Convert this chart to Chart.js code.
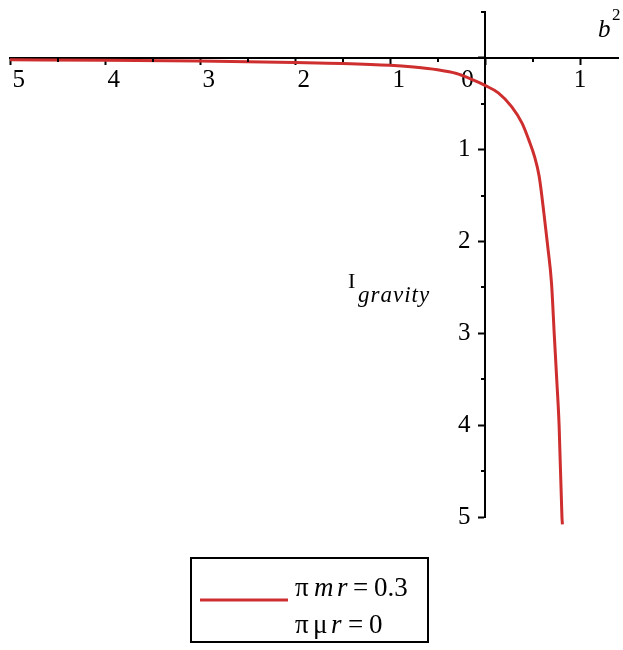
<!DOCTYPE html>
<html>
<head>
<meta charset="utf-8">
<script src="https://cdn.jsdelivr.net/npm/chart.js@4/dist/chart.umd.min.js"></script>
<style>
  html, body { margin: 0; padding: 0; background: #ffffff; }
  #wrap { width: 623px; height: 650px; position: relative; }
</style>
</head>
<body>
<div id="wrap"><canvas id="c" width="623" height="650"></canvas></div>
<script>
// Curve samples: b^2 against I_gravity
const bSquared = [-5, -4, -3, -2, -1.5, -1, -0.75, -0.5, -0.3, -0.17, -0.06, 0, 0.14, 0.28, 0.39, 0.46, 0.52, 0.57, 0.62, 0.66, 0.70, 0.73, 0.755, 0.78, 0.81, 0.815];
const iGravity = [-0.02, -0.025, -0.035, -0.05, -0.06, -0.08, -0.10, -0.13, -0.17, -0.22, -0.27, -0.30, -0.38, -0.53, -0.71, -0.89, -1.07, -1.29, -1.69, -2.05, -2.45, -3.03, -3.5, -4.0, -5.0, -5.08];

// Axis ticks (whole numbers are labelled, halves are short minor ticks)
const xTicks = [-5, -4.5, -4, -3.5, -3, -2.5, -2, -1.5, -1, -0.5, 0, 0.5, 1];
const yTicks = [0.5, 0, -0.5, -1, -1.5, -2, -2.5, -3, -3.5, -4, -4.5, -5];
const xRange = [-5, 1.4];
const yRange = [-5, 0.5];

const curveColor = 'rgb(206, 46, 46)';
const FONT = '"Liberation Serif", "Times New Roman", serif';

const isMajor = v => Math.abs(v - Math.round(v)) < 1e-9;

// Negative values print without the sign but keep its room before the digits
function xLabel(v) {
  if (!isMajor(v)) return '';
  if (v === 0) return '0\u2003\u2009\u2009';
  if (v < 0) return '\u2002\u2009' + Math.abs(v);
  return String(v);
}
function yLabel(v) {
  if (!isMajor(v) || v === 0) return '';
  return Math.abs(v) + '\u2002\u200A';
}

// Legend rows: [text, italic, x]
const legendRow1 = [['\u03C0', false, 295], ['m', true, 314], ['r', true, 337], ['=', false, 353], ['0.3', false, 374]];
const legendRow2 = [['\u03C0', false, 295], ['\u03BC', false, 313], ['r', true, 331], ['=', false, 348], ['0', false, 369]];

// Short minor ticks, axis titles and the legend box
const decorations = {
  id: 'decorations',
  afterDraw(chart) {
    const ctx = chart.ctx;
    const xs = chart.scales.x, ys = chart.scales.y;
    const x0 = xs.getPixelForValue(0), y0 = ys.getPixelForValue(0);
    ctx.save();
    ctx.strokeStyle = '#000';
    ctx.lineWidth = 2;
    ctx.beginPath();
    xTicks.filter(v => !isMajor(v)).forEach(v => {
      const px = Math.round(xs.getPixelForValue(v));
      ctx.moveTo(px, y0); ctx.lineTo(px, y0 + 4);
    });
    yTicks.filter(v => !isMajor(v)).forEach(v => {
      const py = Math.round(ys.getPixelForValue(v));
      ctx.moveTo(x0, py); ctx.lineTo(x0 - 4, py);
    });
    ctx.stroke();

    ctx.fillStyle = '#000';
    ctx.textBaseline = 'alphabetic';
    ctx.textAlign = 'left';
    // horizontal axis title: b^2
    ctx.font = 'italic 25px ' + FONT;
    ctx.fillText('b', 598, 37);
    ctx.font = '17px ' + FONT;
    ctx.fillText('2', 612, 20);
    // vertical axis title: I_gravity
    ctx.font = '22px ' + FONT;
    ctx.fillText('I', 348, 288);
    ctx.font = 'italic 23px ' + FONT;
    ctx.letterSpacing = '1px';
    ctx.fillText('gravity', 358, 302);
    ctx.letterSpacing = '0px';

    // legend
    ctx.lineWidth = 2;
    ctx.strokeRect(191, 558, 237, 84);
    ctx.strokeStyle = curveColor;
    ctx.lineWidth = 3;
    ctx.beginPath();
    ctx.moveTo(200, 600); ctx.lineTo(288, 600);
    ctx.stroke();

    const drawRow = (row, y) => {
      row.forEach(([txt, italic, x]) => {
        ctx.font = (italic ? 'italic ' : '') + '27px ' + FONT;
        ctx.fillText(txt, x, y);
      });
    };
    drawRow(legendRow1, 596);
    drawRow(legendRow2, 633);
    ctx.restore();
  }
};

const noPadding = axis => {
  axis.paddingLeft = 0; axis.paddingRight = 0;
  axis.paddingTop = 0; axis.paddingBottom = 0;
};

const axisCommon = {
  type: 'linear',
  border: { display: true, color: '#000', width: 2 },
  grid: {
    display: true,
    drawOnChartArea: false,
    drawTicks: true,
    tickLength: 6,
    tickWidth: 2,
    tickColor: ctx => isMajor(ctx.tick.value) ? '#000' : 'rgba(0,0,0,0)'
  },
  afterFit: noPadding
};

new Chart(document.getElementById('c'), {
  type: 'line',
  data: {
    datasets: [{
      label: '\u03C0 m r = 0.3, \u03C0 \u03BC r = 0',
      data: bSquared.map((b, i) => ({ x: b, y: iGravity[i] })),
      borderColor: curveColor,
      borderWidth: 3,
      pointRadius: 0,
      cubicInterpolationMode: 'monotone',
      fill: false,
      clip: false
    }]
  },
  options: {
    responsive: false,
    animation: false,
    events: [],
    layout: { padding: { left: 10, right: 5, top: 12, bottom: 133 } },
    plugins: { legend: { display: false }, tooltip: { enabled: false } },
    scales: {
      x: Object.assign({}, axisCommon, {
        position: { y: 0 },
        min: xRange[0], max: xRange[1],
        afterBuildTicks: axis => { axis.ticks = xTicks.map(v => ({ value: v })); },
        ticks: {
          autoSkip: false, maxRotation: 0, padding: 2,
          color: '#000', font: { family: FONT, size: 25 },
          callback: v => xLabel(v)
        }
      }),
      y: Object.assign({}, axisCommon, {
        position: { x: 0 },
        min: yRange[0], max: yRange[1],
        afterBuildTicks: axis => { axis.ticks = yTicks.map(v => ({ value: v })); },
        ticks: {
          autoSkip: false, padding: 7,
          color: '#000', font: { family: FONT, size: 25 },
          callback: v => yLabel(v)
        }
      })
    }
  },
  plugins: [decorations]
});
</script>
</body>
</html>
